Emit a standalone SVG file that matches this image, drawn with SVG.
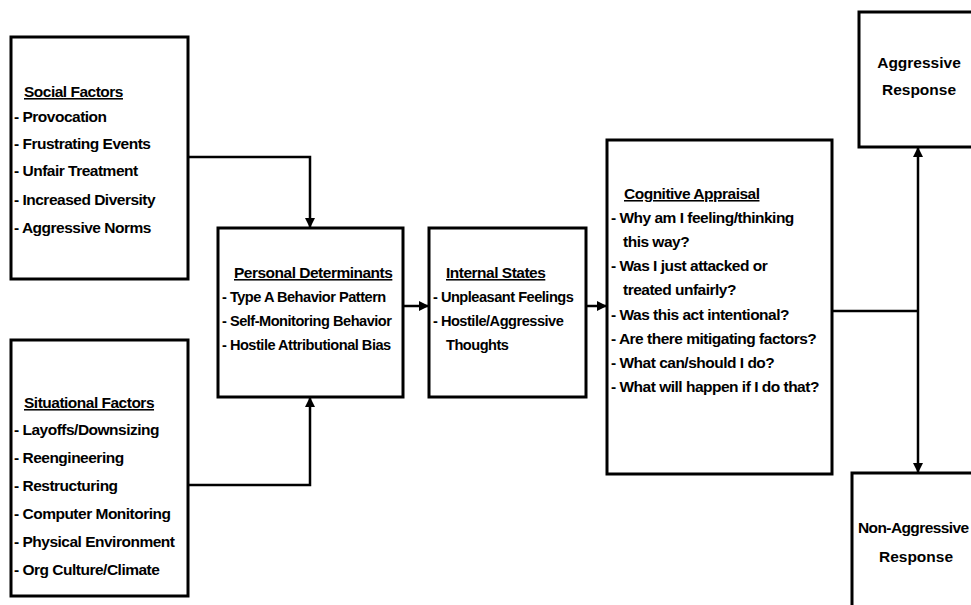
<svg xmlns="http://www.w3.org/2000/svg" width="971" height="605" viewBox="0 0 971 605">
<style>
.box{fill:#fff;stroke:#000;stroke-width:3}
.t{font-family:"Liberation Sans",Arial,sans-serif;font-weight:bold;font-size:15.5px;fill:#000;letter-spacing:-0.5px}
.s{font-size:14.6px}
.h{text-decoration:underline}
.big{font-family:"Liberation Sans",Arial,sans-serif;font-weight:bold;font-size:15.5px;fill:#000}
.ln{fill:none;stroke:#000;stroke-width:2.5}
</style>
<defs>
<marker id="ah" viewBox="0 0 10 10" refX="10" refY="5" markerWidth="4.5" markerHeight="4" orient="auto" markerUnits="strokeWidth">
<path d="M0,0 L10,5 L0,10 z" fill="#000"/>
</marker>
</defs>
<rect width="971" height="605" fill="#fff"/>
<g id="connectors">
<path class="ln" d="M188,157 H310 V228" marker-end="url(#ah)"/>
<path class="ln" d="M188,485 H310 V397" marker-end="url(#ah)"/>
<path class="ln" d="M403,306 H429" marker-end="url(#ah)"/>
<path class="ln" d="M586,306 H607" marker-end="url(#ah)"/>
<path class="ln" d="M832,311 H918"/>
<path class="ln" d="M918,311 V147" marker-end="url(#ah)"/>
<path class="ln" d="M918,311 V473" marker-end="url(#ah)"/>
</g>
<g id="social">
<rect class="box" x="11" y="37" width="177" height="242"/>
<text class="t h" x="24" y="97">Social Factors</text>
<text class="t" x="14" y="122">- Provocation</text>
<text class="t" x="14" y="149">- Frustrating Events</text>
<text class="t" x="14" y="176">- Unfair Treatment</text>
<text class="t" x="14" y="205">- Increased  Diversity</text>
<text class="t" x="14" y="233">- Aggressive Norms</text>
</g>
<g id="situational">
<rect class="box" x="11" y="340" width="177" height="256"/>
<text class="t h" x="24" y="408">Situational Factors</text>
<text class="t" x="14" y="435">- Layoffs/Downsizing</text>
<text class="t" x="14" y="463">- Reengineering</text>
<text class="t" x="14" y="491">- Restructuring</text>
<text class="t" x="14" y="519">- Computer Monitoring</text>
<text class="t" x="14" y="547">- Physical Environment</text>
<text class="t" x="14" y="575">- Org  Culture/Climate</text>
</g>
<g id="personal">
<rect class="box" x="218" y="228" width="185" height="169"/>
<text class="t h" x="234" y="278">Personal Determinants</text>
<text class="t s" x="222" y="302">- Type A Behavior Pattern</text>
<text class="t s" x="222" y="326">- Self-Monitoring Behavior</text>
<text class="t s" x="222" y="350">- Hostile Attributional Bias</text>
</g>
<g id="internal">
<rect class="box" x="429" y="228" width="157" height="169"/>
<text class="t h" x="446" y="278">Internal States</text>
<text class="t s" x="433" y="302">- Unpleasant Feelings</text>
<text class="t s" x="433" y="326">-  Hostile/Aggressive</text>
<text class="t s" x="446" y="350">Thoughts</text>
</g>
<g id="cognitive">
<rect class="box" x="607" y="140" width="225" height="334"/>
<text class="t h" x="624" y="199">Cognitive Appraisal</text>
<text class="t" x="611" y="223">- Why am I feeling/thinking</text>
<text class="t" x="623" y="247">this way?</text>
<text class="t" x="611" y="271">- Was I just attacked or</text>
<text class="t" x="623" y="295">treated unfairly?</text>
<text class="t" x="611" y="320">- Was this act intentional?</text>
<text class="t" x="611" y="344">- Are there mitigating factors?</text>
<text class="t" x="611" y="368">- What can/should  I do?</text>
<text class="t" x="611" y="392">- What will happen if I do that?</text>
</g>
<g id="aggressive">
<rect class="box" x="859" y="12" width="130" height="135"/>
<text class="big" x="919" y="68" text-anchor="middle">Aggressive</text>
<text class="big" x="919" y="95" text-anchor="middle">Response</text>
</g>
<g id="nonaggressive">
<rect class="box" x="852" y="473" width="140" height="150"/>
<text class="big" x="858" y="533" letter-spacing="-0.6">Non-Aggressive</text>
<text class="big" x="916" y="562" text-anchor="middle">Response</text>
</g>
</svg>
